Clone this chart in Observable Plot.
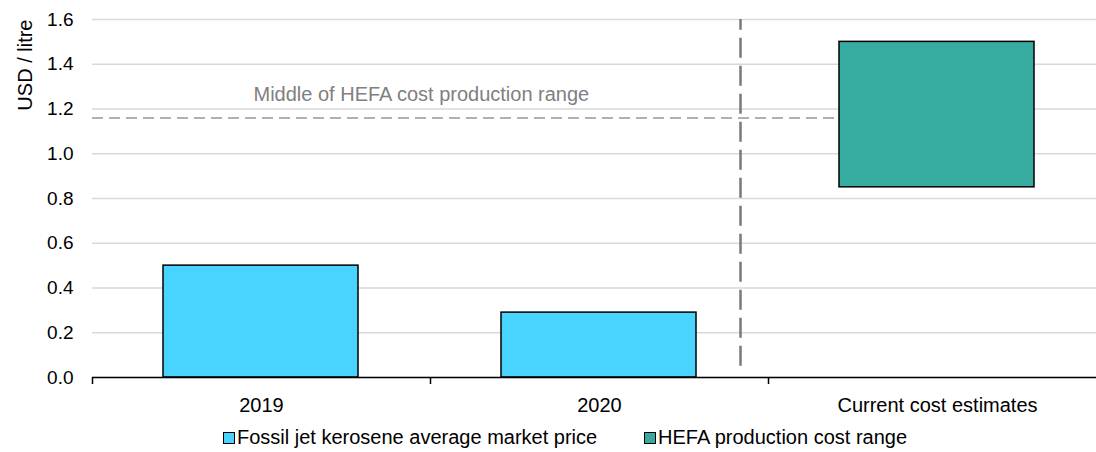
<!DOCTYPE html>
<html>
<head>
<meta charset="utf-8">
<script src="https://cdn.jsdelivr.net/npm/d3@7"></script>
<script src="https://cdn.jsdelivr.net/npm/@observablehq/plot@0.6"></script>
<style>
  html, body { margin: 0; padding: 0; background: #fff; overflow: hidden; }
  body { width: 1096px; height: 452px; font-family: "Liberation Sans", Arial, sans-serif; }
  #legend { position: relative; height: 32px; font-size: 20px; color: #000; }
  .item { position: absolute; top: 6px; display: flex; align-items: center; white-space: nowrap; }
  .sw { width: 10px; height: 10px; border: 1px solid #000; margin-right: 2px; }
</style>
</head>
<body>
<div id="chart"></div>
<div id="legend"></div>
<script>
const categories = ["2019", "2020", "Current cost estimates"];
const fossilValues = [0.50, 0.29, null];
const hefaLow = [null, null, 0.85];
const hefaHigh = [null, null, 1.50];
const hefaMiddle = 1.16;
const yTicks = [0, 0.2, 0.4, 0.6, 0.8, 1.0, 1.2, 1.4, 1.6];
const seriesNames = ["Fossil jet kerosene average market price", "HEFA production cost range"];
const seriesColors = ["#48D4FF", "#36ACA0"];
const annotation = "Middle of HEFA cost production range";
const yLabel = "USD / litre";

const fossil = categories.map((c, i) => ({cat: c, y1: 0, y2: fossilValues[i]})).filter(d => d.y2 != null);
const hefa = categories.map((c, i) => ({cat: c, y1: hefaLow[i], y2: hefaHigh[i]})).filter(d => d.y2 != null);

const chart = Plot.plot({
  width: 1096,
  height: 420,
  marginTop: 19,
  marginBottom: 43,
  marginLeft: 92,
  marginRight: -10,
  style: {fontFamily: "Liberation Sans, Arial, sans-serif", fontSize: "20px", color: "#000", overflow: "hidden"},
  x: {domain: categories, padding: 0},
  y: {domain: [0, 1.6]},
  marks: [
    Plot.gridY(yTicks, {stroke: "#d9d9d9", strokeOpacity: 1, strokeWidth: 1.5}),
    Plot.axisY(yTicks, {tickSize: 0, tickPadding: 19, label: null, tickFormat: d3.format(".1f"), fontSize: 19}),
    Plot.axisX({tickSize: 0, tickPadding: 20, label: null, fontSize: 20}),
    Plot.axisX({tickSize: 7, text: null, label: null, dx: -169, stroke: "#000", strokeWidth: 1.5}),
    // x2 of a band scale is the end of the band: the end of the "2020" band, extended to the HEFA bar's left edge
    Plot.ruleY([hefaMiddle], {x1: () => categories[0], x2: () => categories[1], insetRight: -72, stroke: "#b0b0b0", strokeWidth: 2, strokeDasharray: "11,6"}),
    Plot.text([annotation], {x: () => categories[0], y: () => 1.265, textAnchor: "start", dx: -8, fill: "#808080", fontSize: 20}),
    Plot.barY(fossil, {x: "cat", y1: "y1", y2: "y2", fill: seriesColors[0], stroke: "#000", strokeWidth: 1.5, insetLeft: 71, insetRight: 72}),
    Plot.barY(hefa, {x: "cat", y1: "y1", y2: "y2", fill: seriesColors[1], stroke: "#000", strokeWidth: 1.5, insetLeft: 71, insetRight: 72}),
    Plot.ruleX([categories[2]], {x: d => d, y1: 0.05, y2: 1.6, dx: -197, stroke: "#7a7a7a", strokeWidth: 2.5, strokeDasharray: "20,8"}),
    Plot.ruleY([0], {stroke: "#000", strokeWidth: 1.5}),
    Plot.text([yLabel], {frameAnchor: "top-left", rotate: -90, textAnchor: "end", dx: -75, dy: 0, fontSize: 20, fill: "#000"})
  ]
});
document.getElementById("chart").appendChild(chart);

const legend = document.getElementById("legend");
const lefts = [223, 644];
seriesNames.forEach((name, i) => {
  const item = document.createElement("div");
  item.className = "item";
  item.style.left = lefts[i] + "px";
  const sw = document.createElement("div");
  sw.className = "sw";
  sw.style.background = seriesColors[i];
  const label = document.createElement("span");
  label.textContent = name;
  item.appendChild(sw);
  item.appendChild(label);
  legend.appendChild(item);
});
</script>
</body>
</html>
